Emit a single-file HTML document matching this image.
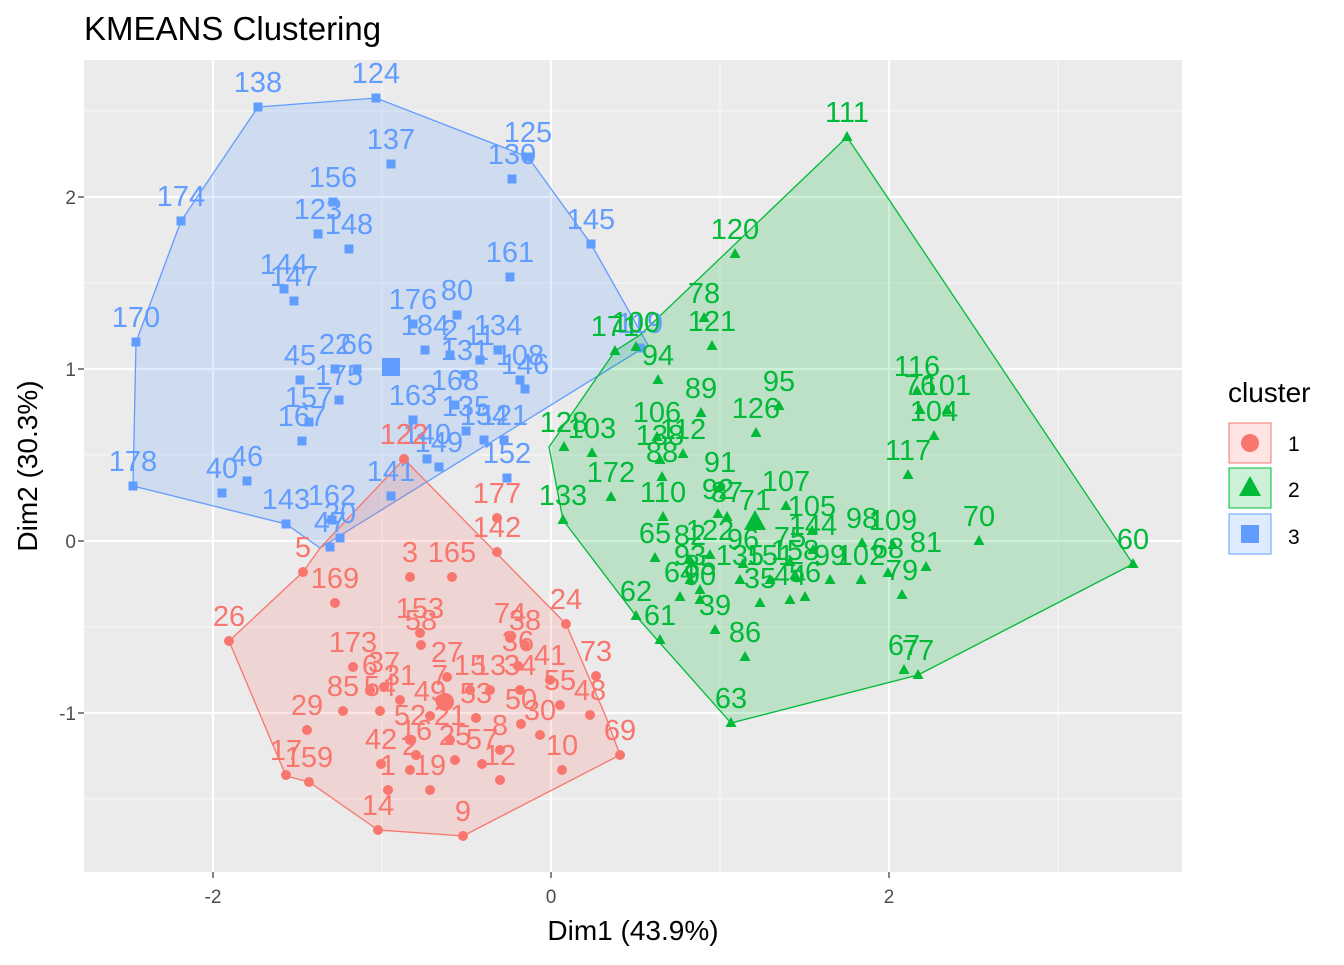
<!DOCTYPE html>
<html><head><meta charset="utf-8"><style>
body{margin:0;background:#fff;width:1344px;height:960px;overflow:hidden}
svg{font-family:"Liberation Sans",Arial,sans-serif}
</style></head><body>
<svg id="s" width="1344" height="960" xmlns="http://www.w3.org/2000/svg">
<rect width="1344" height="960" fill="#fff"/>
<text x="84" y="40" font-size="33" fill="#000">KMEANS Clustering</text>
<rect x="84" y="60" width="1098" height="812" fill="#EBEBEB"/>
<g stroke="#F7F7F7" stroke-width="1.2">
<line x1="84" x2="1182" y1="111" y2="111"/><line x1="84" x2="1182" y1="283" y2="283"/><line x1="84" x2="1182" y1="455" y2="455"/><line x1="84" x2="1182" y1="627" y2="627"/><line x1="84" x2="1182" y1="799" y2="799"/>
<line y1="60" y2="872" x1="382" x2="382"/><line y1="60" y2="872" x1="720" x2="720"/><line y1="60" y2="872" x1="1058" x2="1058"/>
</g>
<g stroke="#fff" stroke-width="2.2">
<line x1="84" x2="1182" y1="197" y2="197"/><line x1="84" x2="1182" y1="369" y2="369"/><line x1="84" x2="1182" y1="541" y2="541"/><line x1="84" x2="1182" y1="713" y2="713"/>
<line y1="60" y2="872" x1="213" x2="213"/><line y1="60" y2="872" x1="551" x2="551"/><line y1="60" y2="872" x1="889" x2="889"/>
</g>
<polygon points="258,107 376,98 528,157 591,244 648,345 320,548 286,524 133,486 136,342 181,221" fill="#619CFF" fill-opacity="0.2" stroke="#619CFF" stroke-width="1.3"/>
<polygon points="404,459 566,624 606,717 620,755 463,836 378,830 309,782 286,776 229,641 303,572 320,548" fill="#F8766D" fill-opacity="0.2" stroke="#F8766D" stroke-width="1.3"/>
<polygon points="847,137 1133,564 918,675 731,723 636,616 563,520 549,447 615,351 640,335" fill="#00BA38" fill-opacity="0.2" stroke="#00BA38" stroke-width="1.3"/>
<g id="pts"></g>
<g font-size="19" fill="#4D4D4D" text-anchor="end">
<text x="76" y="204">2</text><text x="76" y="376">1</text><text x="76" y="548">0</text><text x="76" y="720">-1</text>
</g>
<g font-size="19" fill="#4D4D4D" text-anchor="middle">
<text x="213" y="903">-2</text><text x="551" y="903">0</text><text x="889" y="903">2</text>
</g>
<g stroke="#333" stroke-width="1.2">
<line x1="78" x2="84" y1="197" y2="197"/><line x1="78" x2="84" y1="369" y2="369"/><line x1="78" x2="84" y1="541" y2="541"/><line x1="78" x2="84" y1="713" y2="713"/>
<line y1="872" y2="878" x1="213" x2="213"/><line y1="872" y2="878" x1="551" x2="551"/><line y1="872" y2="878" x1="889" x2="889"/>
</g>
<text x="633" y="940" font-size="28" text-anchor="middle">Dim1 (43.9%)</text>
<text transform="translate(37,466) rotate(-90)" font-size="28" text-anchor="middle">Dim2 (30.3%)</text>
<text x="1228" y="402" font-size="28">cluster</text>
<rect x="1229" y="423" width="42" height="40" fill="#F8766D" fill-opacity="0.2" stroke="#F8766D"/>
<circle cx="1250" cy="443" r="9" fill="#F8766D"/>
<rect x="1229" y="468" width="42" height="40" fill="#00BA38" fill-opacity="0.2" stroke="#00BA38"/>
<polygon points="1250,476 1261,496 1239,496" fill="#00BA38"/>
<rect x="1229" y="514" width="42" height="40" fill="#619CFF" fill-opacity="0.2" stroke="#619CFF"/>
<rect x="1241" y="525" width="18" height="18" fill="#619CFF"/>
<g font-size="21"><text x="1288" y="451">1</text><text x="1288" y="497">2</text><text x="1288" y="544">3</text></g>
</svg>
<script>
var B=[[138,258,107],[124,376,98],[137,391,164],[125,528,157],[130,512,179],[174,181,221],[156,333,202],[123,318,234],[148,349,249],[145,591,244],[161,510,277],[144,284,289],[147,294,301],[170,136,342],[176,413,324],[80,457,315],[184,425,350],[134,498,350],[22,335,369],[66,357,369],[175,339,400],[131,465,375],[108,520,380],[146,525,389],[168,455,405],[163,413,420],[157,309,422],[167,302,441],[135,466,431],[154,484,440],[121,504,440],[140,427,459],[149,439,467],[152,507,478],[178,133,486],[40,222,493],[46,247,481],[141,391,496],[143,286,524],[162,332,520],[47,330,547],[20,340,538],[119,640,348],[2,450,355],[11,480,360],[45,300,380]];
var R=[[122,404,459],[177,497,518],[142,497,552],[5,303,572],[165,452,577],[3,410,577],[169,335,603],[26,229,641],[24,566,624],[153,420,633],[58,421,645],[74,510,638],[38,525,645],[36,518,666],[173,353,667],[41,550,680],[73,596,676],[37,384,687],[27,447,677],[9,463,836],[14,378,830],[17,286,775],[159,309,782],[29,307,730],[85,343,711],[54,380,711],[49,430,716],[53,476,718],[50,521,724],[30,540,735],[52,410,740],[42,381,764],[10,562,770],[12,500,780],[57,482,764],[69,620,755],[48,590,715],[55,560,705],[31,400,700],[15,470,690],[13,490,690],[34,520,690],[2,410,770],[19,430,790],[21,450,740],[25,455,760],[1,388,790],[16,416,755],[8,500,750],[6,370,690],[7,440,700]];
var G=[[111,847,137],[120,735,254],[78,704,318],[100,636,347],[171,615,351],[121,712,346],[94,658,380],[95,779,406],[89,701,413],[116,917,391],[76,920,410],[101,947,410],[104,934,436],[106,657,437],[126,756,433],[112,683,454],[138,660,460],[88,662,477],[91,720,487],[117,908,475],[103,592,453],[128,564,447],[172,611,497],[133,563,520],[110,663,517],[107,786,506],[92,718,514],[87,727,517],[71,755,525],[105,812,531],[98,862,543],[109,893,545],[70,979,541],[60,1133,564],[144,813,550],[81,926,567],[68,888,573],[102,861,580],[79,902,595],[75,790,562],[65,655,558],[82,690,560],[122,710,555],[96,743,564],[93,690,580],[85,700,590],[135,740,580],[151,770,580],[158,795,575],[99,830,580],[62,636,616],[61,660,640],[39,715,630],[86,745,657],[63,731,723],[67,904,670],[77,918,675],[35,760,603],[44,790,600],[56,805,597],[90,700,600],[64,680,597]];
var h='';
function lab(c,n,x,y){h+='<text x="'+x+'" y="'+(y-15)+'" font-size="29" fill="'+c+'" text-anchor="middle">'+n+'</text>';}
B.forEach(function(p){h+='<rect x="'+(p[1]-4.5)+'" y="'+(p[2]-4.5)+'" width="9" height="9" fill="#619CFF"/>';lab('#619CFF',p[0],p[1],p[2]);});
R.forEach(function(p){h+='<circle cx="'+p[1]+'" cy="'+p[2]+'" r="5" fill="#F8766D"/>';lab('#F8766D',p[0],p[1],p[2]);});
G.forEach(function(p){var x=p[1],y=p[2];h+='<polygon points="'+x+','+(y-6)+' '+(x+5.5)+','+(y+4)+' '+(x-5.5)+','+(y+4)+'" fill="#00BA38"/>';lab('#00BA38',p[0],x,y);});
h+='<rect x="382" y="358" width="18" height="18" fill="#619CFF"/>';
h+='<circle cx="445" cy="702" r="9" fill="#F8766D"/>';
h+='<polygon points="755,510 766,530 744,530" fill="#00BA38"/>';
document.getElementById('pts').innerHTML=h;
</script>
</body></html>
